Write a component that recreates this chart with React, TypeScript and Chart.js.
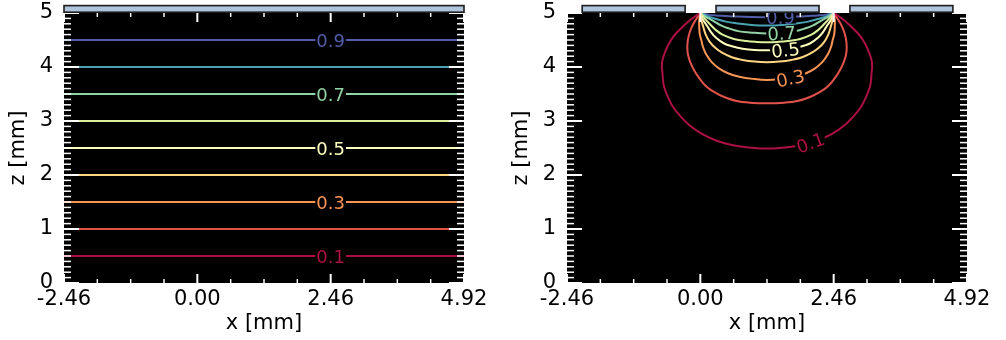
import { useEffect, useRef } from "react";
import { Chart, registerables } from "chart.js";

Chart.register(...registerables);
Chart.defaults.font.family = "'DejaVu Sans', sans-serif";

// ---------- data ----------
const levels = [0.1, 0.2, 0.3, 0.4, 0.5, 0.6, 0.7, 0.8, 0.9];
const levelColors = ["#ac1045", "#e3534a", "#fa9655", "#fed683", "#ffffbf", "#dbf09a", "#91d3a5", "#49a2b2", "#535da9"];
const labeledLevels = [0.1, 0.3, 0.5, 0.7, 0.9];

const xTicks = [-2.46, 0, 2.46, 4.92];
const xTickLabels = ["-2.46", "0.00", "2.46", "4.92"];
const yTicks = [0, 1, 2, 3, 4, 5];
const yTickLabels = ["0", "1", "2", "3", "4", "5"];

// left panel: uniform field, level heights (z in mm)
const uniformZ = [0.5, 1.0, 1.5, 2.0, 2.5, 3.0, 3.5, 4.0, 4.5];
const uniformXRange = [-2.46, 4.92];
const uniformLabelX = 2.46;

// right panel: contours, [x, z]
const contour01: [number, number][] = [
  [0, 5], [-0.09, 4.94], [-0.2, 4.86], [-0.33, 4.74], [-0.45, 4.62], [-0.54, 4.5], [-0.61, 4.37],
  [-0.66, 4.25], [-0.7, 4.12], [-0.71, 4.01], [-0.7, 3.9], [-0.69, 3.77], [-0.67, 3.64], [-0.6, 3.45],
  [-0.51, 3.27], [-0.37, 3.09], [-0.2, 2.92], [0.03, 2.76], [0.29, 2.64], [0.6, 2.55], [0.91, 2.51],
  [1.23, 2.49], [1.55, 2.51], [1.86, 2.55], [2.17, 2.64], [2.43, 2.76], [2.66, 2.92], [2.83, 3.09],
  [2.97, 3.27], [3.06, 3.45], [3.13, 3.64], [3.15, 3.77], [3.16, 3.9], [3.17, 4.01], [3.16, 4.12],
  [3.12, 4.25], [3.07, 4.37], [3.0, 4.5], [2.91, 4.62], [2.79, 4.74], [2.66, 4.86], [2.55, 4.94], [2.46, 5],
];
const contour02: [number, number][] = [
  [0, 5], [-0.08, 4.88], [-0.15, 4.76], [-0.2, 4.63], [-0.23, 4.5], [-0.24, 4.37], [-0.23, 4.24],
  [-0.19, 4.1], [-0.11, 3.93], [-0.01, 3.78], [0.1, 3.65], [0.25, 3.54], [0.45, 3.44], [0.67, 3.37],
  [0.91, 3.34], [1.23, 3.33], [1.55, 3.34], [1.79, 3.37], [2.01, 3.44], [2.21, 3.54], [2.36, 3.65],
  [2.47, 3.78], [2.57, 3.93], [2.65, 4.1], [2.69, 4.24], [2.7, 4.37], [2.69, 4.5], [2.66, 4.63],
  [2.61, 4.76], [2.54, 4.88], [2.46, 5],
];
const contour03: [number, number][] = [
  [0, 5], [-0.02, 4.87], [-0.02, 4.74], [-0.01, 4.61], [0.02, 4.49], [0.05, 4.37], [0.11, 4.23],
  [0.21, 4.09], [0.35, 3.97], [0.52, 3.88], [0.72, 3.82], [0.97, 3.78], [1.23, 3.76], [1.49, 3.78],
  [1.74, 3.82], [1.94, 3.88], [2.11, 3.97], [2.25, 4.09], [2.35, 4.23], [2.41, 4.37], [2.44, 4.49],
  [2.47, 4.61], [2.48, 4.74], [2.48, 4.87], [2.46, 5],
];
const contour04: [number, number][] = [
  [0, 5], [0.02, 4.87], [0.055, 4.74], [0.1, 4.6], [0.17, 4.47], [0.28, 4.35], [0.41, 4.26],
  [0.58, 4.18], [0.78, 4.13], [1.0, 4.1], [1.23, 4.09], [1.46, 4.1], [1.68, 4.13], [1.88, 4.18],
  [2.05, 4.26], [2.18, 4.35], [2.29, 4.47], [2.36, 4.6], [2.405, 4.74], [2.44, 4.87], [2.46, 5],
];
const contour05: [number, number][] = [
  [0, 5], [0.04, 4.89], [0.12, 4.77], [0.2, 4.64], [0.29, 4.54], [0.43, 4.44], [0.6, 4.38],
  [0.78, 4.34], [1.0, 4.315], [1.23, 4.31], [1.46, 4.315], [1.68, 4.34], [1.86, 4.38], [2.03, 4.44],
  [2.17, 4.54], [2.26, 4.64], [2.34, 4.77], [2.42, 4.89], [2.46, 5],
];
const contour06: [number, number][] = [
  [0, 5], [0.07, 4.91], [0.17, 4.8], [0.28, 4.69], [0.41, 4.6], [0.62, 4.52], [0.85, 4.48],
  [1.04, 4.465], [1.23, 4.46], [1.42, 4.465], [1.61, 4.48], [1.84, 4.52], [2.05, 4.6], [2.18, 4.69],
  [2.29, 4.8], [2.39, 4.91], [2.46, 5],
];
const contour07: [number, number][] = [
  [0, 5], [0.1, 4.93], [0.23, 4.86], [0.38, 4.77], [0.54, 4.71], [0.72, 4.66], [0.91, 4.64],
  [1.23, 4.62], [1.55, 4.64], [1.74, 4.66], [1.92, 4.71], [2.08, 4.77], [2.23, 4.86], [2.36, 4.93],
  [2.46, 5],
];
const contour08: [number, number][] = [
  [0, 5], [0.13, 4.94], [0.29, 4.89], [0.47, 4.84], [0.66, 4.81], [0.94, 4.78], [1.23, 4.77],
  [1.52, 4.78], [1.8, 4.81], [1.99, 4.84], [2.17, 4.89], [2.33, 4.94], [2.46, 5],
];
const contour09: [number, number][] = [
  [0, 5], [0.14, 4.97], [0.29, 4.955], [0.47, 4.945], [0.66, 4.935], [0.94, 4.925], [1.23, 4.92],
  [1.52, 4.925], [1.8, 4.935], [1.99, 4.945], [2.17, 4.955], [2.32, 4.97], [2.46, 5],
];
const gapContours = [contour01, contour02, contour03, contour04, contour05, contour06, contour07, contour08, contour09];

// inline label anchors on the right panel: level, x, z, angle (deg)
const gapLabelLevels = [0.9, 0.7, 0.5, 0.3, 0.1];
const gapLabelX = [1.48, 1.5, 1.57, 1.66, 2.03];
const gapLabelZ = [4.922, 4.628, 4.318, 3.795, 2.6];
const gapLabelAngle = [-1, -3, -6, -12, -20];

// electrodes (x ranges in mm)
const uniformElectrodes: [number, number][] = [[-2.46, 4.92]];
const gapElectrodes: [number, number][] = [[-2.18, -0.28], [0.29, 2.19], [2.76, 4.66]];

// ---------- styling ----------
const FONT = "'DejaVu Sans', sans-serif";
const TICK_SIZE = 21;
const LABEL_SIZE = 18;
const LINE_W = 2;
const W = 503;
const H = 340;

type Lbl = { text: string; color: string; x: number; z: number; angle: number };

function colorOf(level: number) {
  return levelColors[levels.findIndex((l) => Math.abs(l - level) < 1e-9)];
}

function makePlugin(bars: [number, number][], labels: Lbl[]) {
  return {
    id: "panelDeco",
    beforeDraw(chart: any) {
      const { ctx, chartArea: a } = chart;
      ctx.save();
      ctx.fillStyle = "#000";
      ctx.fillRect(a.left, a.top, a.right - a.left, a.bottom - a.top);
      ctx.restore();
    },
    afterDatasetsDraw(chart: any) {
      const { ctx, chartArea: a } = chart;
      const sx = chart.scales.x;
      const sy = chart.scales.y;
      ctx.save();
      // contour labels
      ctx.font = `${LABEL_SIZE}px ${FONT}`;
      for (const l of labels) {
        const px = sx.getPixelForValue(l.x);
        const py = sy.getPixelForValue(l.z);
        ctx.save();
        ctx.translate(px, py);
        ctx.rotate((l.angle * Math.PI) / 180);
        const w = ctx.measureText(l.text).width;
        ctx.fillStyle = "#000";
        ctx.fillRect(-w / 2 - 1, -6.5, w + 2, 13);
        ctx.fillStyle = l.color;
        ctx.textAlign = "center";
        ctx.textBaseline = "alphabetic";
        ctx.fillText(l.text, 0, 0.365 * LABEL_SIZE);
        ctx.restore();
      }
      // ticks (inside, white)
      ctx.fillStyle = "#fff";
      const xMinorStep = 0.615;
      for (let k = 0; k <= 12; k++) {
        const v = -2.46 + k * xMinorStep;
        const major = k % 4 === 0;
        const len = major ? 9 : 4;
        const lw = major ? 2 : 1.5;
        const px = sx.getPixelForValue(v);
        ctx.fillRect(px - lw / 2, a.top, lw, len);
        ctx.fillRect(px - lw / 2, a.bottom - len, lw, len);
      }
      for (let k = 0; k <= 50; k++) {
        const v = k * 0.1;
        const major = k % 10 === 0;
        const len = major ? 15 : 7;
        const lw = major ? 2 : 1.5;
        const py = sy.getPixelForValue(v);
        ctx.fillRect(a.left, py - lw / 2, len, lw);
        ctx.fillRect(a.right - len, py - lw / 2, len, lw);
      }
      // electrodes
      for (const [x0, x1] of bars) {
        const p0 = sx.getPixelForValue(x0);
        const p1 = sx.getPixelForValue(x1);
        const top = a.top - 7.4;
        const h = 6.6;
        ctx.fillStyle = "#b0c4de";
        ctx.fillRect(p0, top, p1 - p0, h);
        ctx.strokeStyle = "#1c1c1c";
        ctx.lineWidth = 1.6;
        ctx.strokeRect(p0, top, p1 - p0, h);
      }
      ctx.restore();
    },
  };
}

function baseOptions() {
  const tickFont = { family: FONT, size: TICK_SIZE };
  return {
    animation: false as const,
    responsive: false,
    maintainAspectRatio: false,
    events: [] as any[],
    plugins: { legend: { display: false }, tooltip: { enabled: false } },
    layout: { padding: { top: 13, right: 39, left: 0, bottom: 0 } },
    scales: {
      x: {
        type: "linear" as const,
        position: "bottom" as const,
        min: xTicks[0],
        max: xTicks[xTicks.length - 1],
        grid: { display: false, drawTicks: false },
        border: { display: false },
        afterBuildTicks: (s: any) => {
          s.ticks = xTicks.map((v) => ({ value: v }));
        },
        ticks: {
          autoSkip: false,
          maxRotation: 0,
          padding: 4,
          color: "#000",
          font: tickFont,
          callback: (_v: any, i: number) => xTickLabels[i],
        },
        title: { display: true, text: "x [mm]", color: "#000", font: tickFont, padding: { top: 0, bottom: 4 } },
        afterFit: (s: any) => {
          s.height = 57;
          s.paddingLeft = 0;
          s.paddingRight = 0;
        },
      },
      y: {
        type: "linear" as const,
        position: "left" as const,
        min: yTicks[0],
        max: yTicks[yTicks.length - 1],
        grid: { display: false, drawTicks: false },
        border: { display: false },
        afterBuildTicks: (s: any) => {
          s.ticks = yTicks.map((v) => ({ value: v }));
        },
        ticks: {
          autoSkip: false,
          padding: 11,
          color: "#000",
          font: tickFont,
          callback: (_v: any, i: number) => yTickLabels[i],
        },
        title: { display: true, text: "z [mm]", color: "#000", font: tickFont, padding: { top: 6, bottom: 0 } },
        afterFit: (s: any) => {
          s.width = 64;
          s.paddingTop = 0;
          s.paddingBottom = 0;
        },
      },
    },
  };
}

function Panel({ datasets, bars, labels, left }: { datasets: any[]; bars: [number, number][]; labels: Lbl[]; left: number }) {
  const ref = useRef<HTMLCanvasElement>(null);
  useEffect(() => {
    const chart = new Chart(ref.current as HTMLCanvasElement, {
      type: "scatter",
      data: { datasets },
      options: baseOptions() as any,
      plugins: [makePlugin(bars, labels) as any],
    });
    return () => chart.destroy();
  }, []);
  return (
    <canvas
      ref={ref}
      width={W}
      height={H}
      style={{ position: "absolute", left, top: 0, width: W, height: H }}
    />
  );
}

export default function App() {
  const uniformSets = levels.map((lv, i) => ({
    label: String(lv),
    data: uniformXRange.map((x) => ({ x, y: uniformZ[i] })),
    showLine: true,
    borderColor: levelColors[i],
    borderWidth: LINE_W,
    pointRadius: 0,
    tension: 0,
  }));
  const uniformLabels: Lbl[] = labeledLevels.map((lv) => ({
    text: lv.toFixed(1),
    color: colorOf(lv),
    x: uniformLabelX,
    z: uniformZ[levels.findIndex((l) => Math.abs(l - lv) < 1e-9)],
    angle: 0,
  }));
  const gapSets = levels.map((lv, i) => ({
    label: String(lv),
    data: gapContours[i].map(([x, z]) => ({ x, y: z })),
    showLine: true,
    borderColor: levelColors[i],
    borderWidth: LINE_W,
    pointRadius: 0,
    tension: 0.4,
  }));
  const gapLabels: Lbl[] = gapLabelLevels.map((lv, i) => ({
    text: lv.toFixed(1),
    color: colorOf(lv),
    x: gapLabelX[i],
    z: gapLabelZ[i],
    angle: gapLabelAngle[i],
  }));
  return (
    <div style={{ position: "absolute", left: 0, top: 0, width: 1006, height: 340, background: "#fff" }}>
      <Panel datasets={uniformSets} bars={uniformElectrodes} labels={uniformLabels} left={0} />
      <Panel datasets={gapSets} bars={gapElectrodes} labels={gapLabels} left={503} />
    </div>
  );
}
